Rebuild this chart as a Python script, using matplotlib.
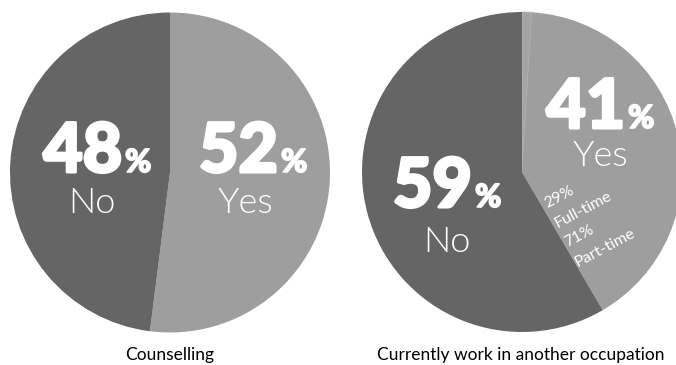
import matplotlib
matplotlib.use("Agg")
import matplotlib.pyplot as plt
import matplotlib.patheffects as pe

# data
titles = ["Counselling", "Currently work in another occupation"]
counselling = [52, 48]          # Yes, No
other_job = [1, 41, 59]         # sliver, Yes, No
split_labels = ["29%", "Full-time", "71%", "Part-time"]

dark = "#656565"
light = "#9e9e9e"
sliver_col = "#a4a4a4"

W, H = 676, 365
fig = plt.figure(figsize=(W / 100, H / 100), dpi=100)
ax = fig.add_axes([0, 0, 1, 1])

thin = ["Lato", "DejaVu Sans"]
fat = [pe.withStroke(linewidth=2.2, foreground="white")]

ax.pie(counselling, colors=[light, dark], startangle=90, counterclock=False,
       center=(170, 192.5), radius=160, frame=True,
       wedgeprops=dict(linewidth=0))
wedges, _ = ax.pie(other_job, colors=[sliver_col, light, dark], startangle=90,
                   counterclock=False, center=(522, 193), radius=160, frame=True,
                   wedgeprops=dict(linewidth=0))
wedges[0].set_edgecolor("#b8b8b8")
wedges[0].set_linewidth(0.6)

ax.set_xlim(0, W)
ax.set_ylim(0, H)
ax.set_aspect("equal")
ax.axis("off")


def big(x, y, num, word, wx, wy):
    ax.text(x, H - y, str(num), ha="right", va="baseline", color="white",
            fontsize=49, fontweight=900, family=thin, path_effects=fat)
    ax.text(x + 3, H - y, "%", ha="left", va="baseline", color="white",
            fontsize=23, fontweight=900, family=thin,
            path_effects=[pe.withStroke(linewidth=1.2, foreground="white")])
    ax.text(wx, H - wy, word, ha="center", va="baseline", color="white",
            fontsize=26, fontweight=300, family=thin)


big(122, 172, counselling[1], "No", 92, 213)
big(278, 172, counselling[0], "Yes", 245, 213)
big(472, 207, other_job[2], "No", 447, 252)
big(625, 128, other_job[1], "Yes", 600, 166)

for i, s in enumerate(split_labels):
    ax.text(547 + 10.3 * i, H - (208 + 19.7 * i), s, ha="left", va="baseline",
            rotation=28, rotation_mode="anchor", color="white",
            fontsize=11.5, family=thin)

ax.text(170, H - 360, titles[0], ha="center", va="baseline", color="black",
        fontsize=12.5, family=thin)
ax.text(521, H - 360, titles[1], ha="center", va="baseline", color="black",
        fontsize=12.5, family=thin)

fig.savefig("out.png", dpi=100)
